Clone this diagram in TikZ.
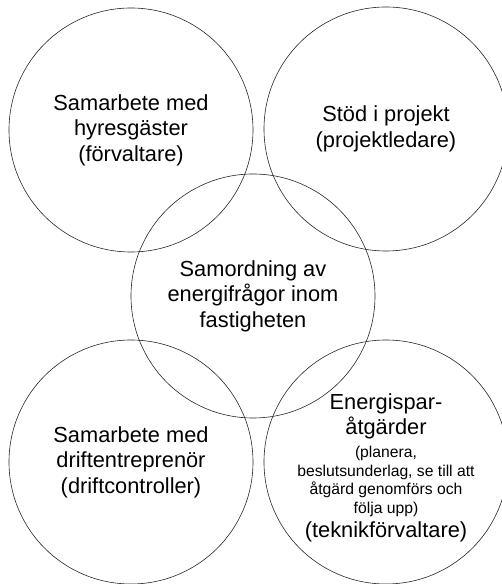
\documentclass[tikz,border=0pt]{standalone}
\usepackage{fontspec}
\setmainfont{Liberation Sans}
\newcommand{\smalltxt}{\fontsize{15.7}{18.8}\selectfont}
\begin{document}
\begin{tikzpicture}[x=1pt,y=1pt,
  ring/.style={circle,draw=black!85,line width=0.6pt,minimum size=244pt,inner sep=0pt,align=center,font=\fontsize{21.8}{25.5}\selectfont}]
\useasboundingbox (0,0) rectangle (502,584);
\node[ring] (tl) at (131,454) {Samarbete med\\hyresgäster\\(förvaltare)};
\node[ring] (tr) at (386,455) {Stöd i projekt\\(projektledare)};
\node[ring] (bl) at (131,122) {Samarbete med\\driftentreprenör\\(driftcontroller)};
\node[ring] (br) at (386,122) {\rule{0pt}{27pt}Energispar-\\åtgärder\\[-3pt]{\smalltxt (planera,}\\[-6.7pt]{\smalltxt beslutsunderlag, se till att}\\[-6.7pt]{\smalltxt åtgärd genomförs och}\\[-6.7pt]{\smalltxt följa upp)}\\[-2pt](teknikförvaltare)};
\node[ring] (m) at (253,288) {Samordning av\\energifrågor inom\\fastigheten};
\end{tikzpicture}
\end{document}
